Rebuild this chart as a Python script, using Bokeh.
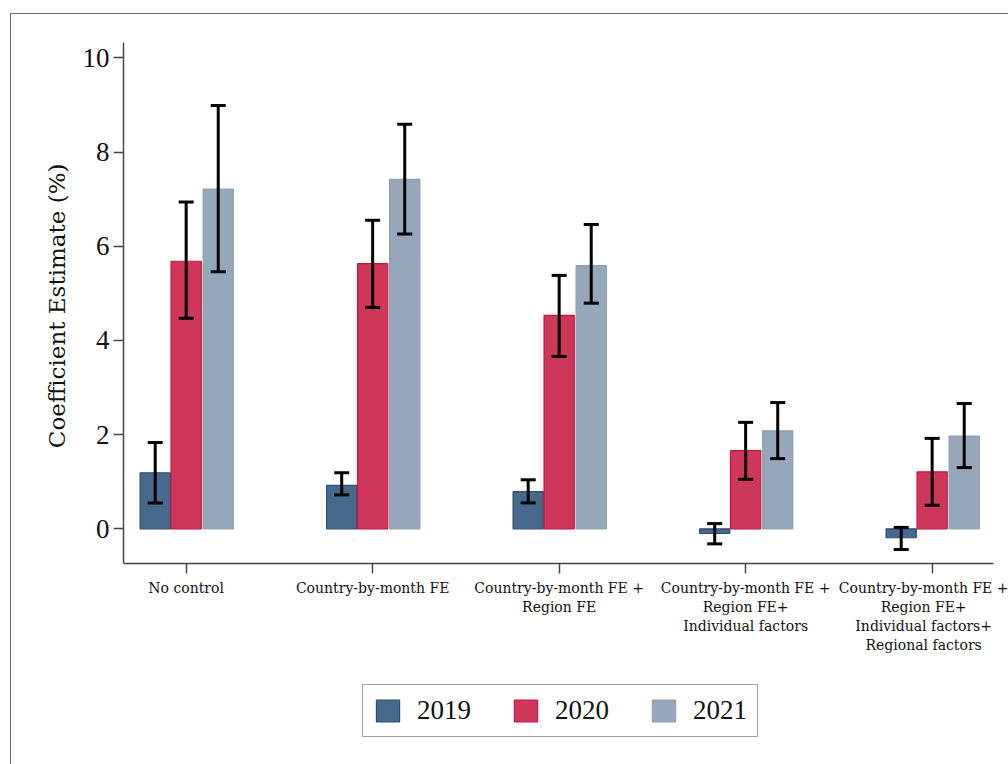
from bokeh.plotting import figure
from bokeh.models import (ColumnDataSource, Range1d, FixedTicker, Whisker, TeeHead,
                          Legend, LegendItem, Title)
from bokeh.embed import file_html
from bokeh.resources import INLINE

# Model specifications (x-axis categories)
specs = [
    "No control",
    "Country-by-month FE",
    "Country-by-month FE +\nRegion FE",
    "Country-by-month FE +\nRegion FE+\nIndividual factors",
    "Country-by-month FE +\nRegion FE+\nIndividual factors+\nRegional factors",
]
years = ["2019", "2020", "2021"]

# Coefficient estimates and confidence bounds (%)
est_2019 = [1.19, 0.92, 0.79, -0.10, -0.19]
lo_2019 = [0.55, 0.72, 0.55, -0.32, -0.44]
hi_2019 = [1.83, 1.19, 1.04, 0.11, 0.03]

est_2020 = [5.68, 5.63, 4.53, 1.66, 1.21]
lo_2020 = [4.47, 4.70, 3.66, 1.05, 0.50]
hi_2020 = [6.94, 6.55, 5.38, 2.26, 1.92]

est_2021 = [7.21, 7.42, 5.59, 2.08, 1.97]
lo_2021 = [5.46, 6.26, 4.79, 1.49, 1.30]
hi_2021 = [8.99, 8.59, 6.46, 2.68, 2.66]

y_ticks = [0, 2, 4, 6, 8, 10]
y_axis_bounds = (-0.737, 10.325)
x_axis_bounds = (-0.336, 4.329)

fills = ["#476a8c", "#cd375a", "#95a7b9"]
edges = ["#2d4f70", "#c8143f", "#8aa0b4"]
offsets = [-0.166, 0.0, 0.172]
bar_w = 0.162

series = [(est_2019, lo_2019, hi_2019),
          (est_2020, lo_2020, hi_2020),
          (est_2021, lo_2021, hi_2021)]

# The frame reaches down past the category labels (and out to the right edge)
# so the legend and the long labels sit inside it; the axes are bounded to the
# 870 x 521 px data span.
px_per_unit_y = 521 / (y_axis_bounds[1] - y_axis_bounds[0])
px_per_unit_x = 870 / (x_axis_bounds[1] - x_axis_bounds[0])
frame_h = 722
frame_w = 885
y_bottom = y_axis_bounds[1] - frame_h / px_per_unit_y
x_right = x_axis_bounds[0] + frame_w / px_per_unit_x

p = figure(
    frame_width=frame_w, frame_height=frame_h,
    x_range=Range1d(x_axis_bounds[0], x_right), y_range=Range1d(y_bottom, y_axis_bounds[1]),
    output_backend="svg", toolbar_location=None,
    min_border_left=112, min_border_top=28, min_border_right=0, min_border_bottom=0,
    background_fill_color="white", border_fill_color="white",
    outline_line_color=None,
    styles={"margin-left": "10px", "margin-top": "13px",
            "border-left": "1px solid #6a6a6a", "border-top": "1px solid #6a6a6a"},
)
p.grid.visible = False

items = []
for k, (est, lo, hi) in enumerate(series):
    xs = [i + offsets[k] for i in range(len(specs))]
    src = ColumnDataSource(dict(x=xs, top=est, lo=lo, hi=hi))
    r = p.vbar(x="x", top="top", bottom=0, width=bar_w, source=src,
               fill_color=fills[k], line_color=edges[k], line_width=1.2)
    items.append(LegendItem(label=years[k], renderers=[r]))
    w = Whisker(base="x", upper="hi", lower="lo", source=src, dimension="height",
                line_color="black", line_width=3, level="overlay",
                upper_head=TeeHead(size=15, line_width=3, line_color="black"),
                lower_head=TeeHead(size=15, line_width=3, line_color="black"))
    p.add_layout(w)

# Y axis
p.yaxis.ticker = FixedTicker(ticks=y_ticks)
p.yaxis.bounds = y_axis_bounds
p.yaxis.major_label_text_font = "Liberation Serif"
p.yaxis.major_label_text_font_size = "27px"
p.yaxis.major_label_text_color = "#111111"
p.yaxis.major_label_standoff = 4
p.yaxis.major_tick_out = 10
p.yaxis.major_tick_in = 0
p.yaxis.minor_tick_line_color = None

# Y axis title, centred on the bounded value span
p.add_layout(Title(text="Coefficient Estimate (%)", align="right", offset=121,
                   text_font="DejaVu Serif", text_font_size="23px",
                   text_font_style="normal", text_color="#111111",
                   standoff=20), "left")

# X axis with specification labels, pinned to the bottom of the value span
p.xaxis.fixed_location = y_axis_bounds[0]
p.xaxis.bounds = x_axis_bounds
p.xaxis.ticker = FixedTicker(ticks=list(range(len(specs))))
p.xaxis.major_label_overrides = {i: s for i, s in enumerate(specs)}
p.xaxis.major_label_text_font = "DejaVu Serif"
p.xaxis.major_label_text_font_size = "14px"
p.xaxis.major_label_text_color = "#111111"
p.xaxis.major_label_standoff = 6
p.xaxis.major_tick_out = 10
p.xaxis.major_tick_in = 0
p.xaxis.minor_tick_line_color = None

for ax in (p.xaxis, p.yaxis):
    ax.axis_line_color = "#444444"
    ax.axis_line_width = 1.5
    ax.major_tick_line_color = "#444444"
    ax.major_tick_line_width = 1.5

legend = Legend(items=items, orientation="horizontal", location=(239, 27),
                label_text_font="Liberation Serif", label_text_font_size="27px",
                label_text_color="#111111",
                glyph_width=29, glyph_height=27, label_standoff=15, spacing=40,
                padding=10, margin=0,
                border_line_color="#444444", border_line_width=1.5)
p.add_layout(legend)

open("out.html", "w").write(file_html(p, INLINE))
